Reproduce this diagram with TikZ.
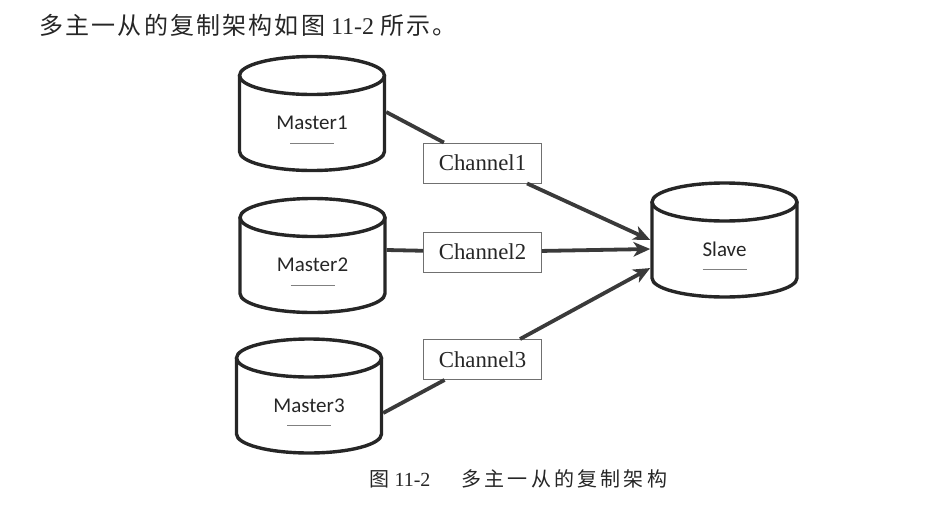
\documentclass[tikz,border=0pt]{standalone}
\usepackage{fontspec}
\setmainfont{Liberation Serif}
\newfontfamily\cjk[LetterSpace=9]{Noto Sans CJK SC}
\newfontfamily\cjkcap[LetterSpace=16]{Noto Sans CJK SC}
\newfontfamily\calibri{Carlito}
\usetikzlibrary{positioning,
shapes.geometric,
arrows.meta,
decorations.markings}
\definecolor{inkgray}{HTML}{262626}
\definecolor{linegray}{HTML}{3A3A3A}
\definecolor{boxgray}{HTML}{707070}
\tikzstyle{Arrow} = [
line width=3.8pt, draw=linegray,
decoration={
markings,
mark=at position 0.999 with {
\arrow[linegray, line width=0pt]{Stealth[length=17pt,width=15pt,inset=5pt]}
}
},
shorten >= 8pt, preaction = {decorate}
]
\tikzstyle{Link} = [line width=3.8pt, draw=linegray]
\tikzstyle{DBline} = [draw=inkgray, line width=3.4pt]
% rectangle node, cylinder drawn round it
\tikzstyle{DB} = [minimum width=145pt, minimum height=114pt, inner sep=0pt,
outer sep=1.7pt, text=inkgray, font=\calibri\fontsize{21}{22}\selectfont,
append after command={\pgfextra{
\draw [DBline] (\tikzlastnode.center) ++(0,-38)
   ellipse [x radius=72.5pt, y radius=19pt];
\draw [DBline] (\tikzlastnode.center) ++(-72.5,-38)
   -- ++(0,76) arc[start angle=180, end angle=360, x radius=72.5pt, y radius=19pt]
   -- ++(0,-76);
}}]
\tikzstyle{Chan} = [draw=boxgray, line width=0.9pt, fill=white,
minimum width=118pt, minimum height=40pt, text=inkgray,
font=\fontsize{22.8}{24}\selectfont]
\newcommand{\dbname}[1]{\raisebox{-24pt}[0pt][0pt]{\begin{tabular}{@{}c@{}}#1\\[-8pt]%
{\color{gray}\rule{44pt}{0.8pt}}\end{tabular}}}

\begin{document}
\begin{tikzpicture}[x=1pt, y=-1pt]
   \useasboundingbox (0,0) rectangle (948,509);
   \node [anchor=west, text=inkgray, font=\fontsize{24}{26}\selectfont] (intro) at (36,25)
      {{\cjk 多主一从的复制架构如图} 11-2 {\cjk 所示。}};

   \node [DB] (m1) at (312,113.5) {\dbname{Master1}};
   \node [DB] (m2) at (312.5,255.5) {\dbname{Master2}};
   \node [DB] (m3) at (309,396) {\dbname{Master3}};
   \node [DB] (slave) at (724.5,240) {\dbname{Slave}};

   \node [Chan] (c1) at (482.5,163) {Channel1};
   \node [Chan] (c2) at (482.5,252) {Channel2};
   \node [Chan] (c3) at (482.5,359.5) {Channel3};

   \draw [Link] ([yshift=1.5pt]m1.east) to (c1);
   \draw [Link] ([yshift=5.5pt]m2.east) to (c2);
   \draw [Link] ([yshift=-17pt]m3.east) to (c3);
   \draw [Arrow] (c1) to (slave.west);
   \draw [Arrow] (c2) to ([yshift=-9pt]slave.west);
   \draw [Arrow] (c3) to ([yshift=-28pt]slave.west);

   \node [anchor=west, text=inkgray, font=\fontsize{20}{22}\selectfont] (caption) at (366,479)
      {{\cjkcap 图} 11-2\hspace{31pt}{\cjkcap 多主一从的复制架构}};
\end{tikzpicture}
\end{document}
